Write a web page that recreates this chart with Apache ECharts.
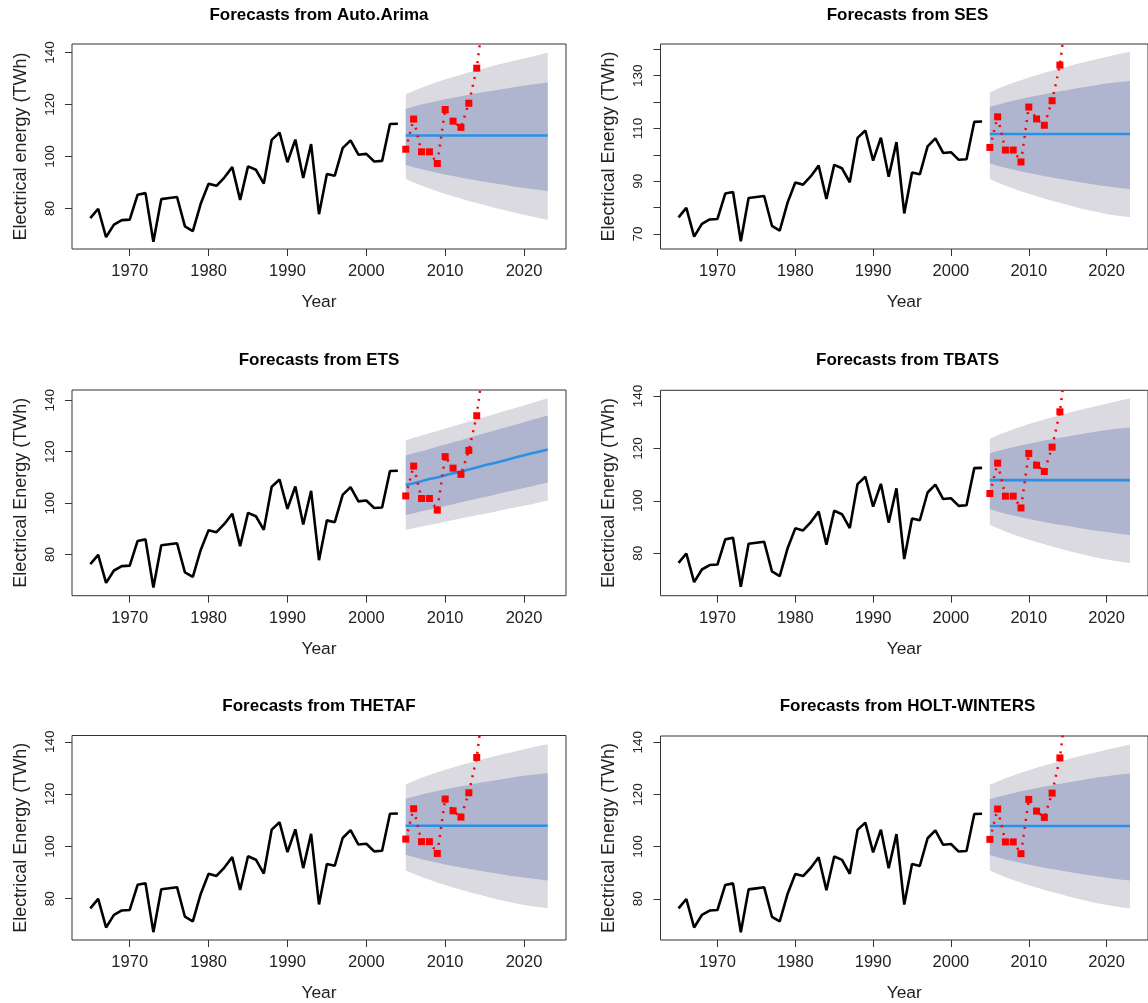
<!DOCTYPE html>
<html>
<head>
<meta charset="utf-8">
<script src="https://cdn.jsdelivr.net/npm/echarts@6.0.0/dist/echarts.min.js"></script>
<style>
html,body{margin:0;padding:0;background:#ffffff;}
#chart{width:1148px;height:1003px;}
</style>
</head>
<body>
<div id="chart"></div>
<script>
// ---------- DATA ----------
const histYears = [1965,1966,1967,1968,1969,1970,1971,1972,1973,1974,1975,1976,1977,1978,1979,1980,1981,1982,1983,1984,
                   1985,1986,1987,1988,1989,1990,1991,1992,1993,1994,1995,1996,1997,1998,1999,2000,2001,2002,2003,2004];
const histValues = [76.3,79.9,69.0,73.8,75.5,75.7,85.3,85.9,67.2,83.6,84.0,84.4,73.1,71.3,81.8,89.5,88.7,91.9,95.9,83.3,
                    96.2,94.9,89.6,106.4,109.2,97.8,106.5,91.7,104.8,77.8,93.3,92.6,103.2,106.2,100.7,101.0,98.1,98.3,112.5,112.6];

const actualYears  = [2005,2006,2007,2008,2009,2010,2011,2012,2013,2014,2015];
const actualValues = [102.8,114.4,101.8,101.8,97.3,118.1,113.6,111.2,120.5,134.0,158.0];

const fcYears = [2005,2006,2007,2008,2009,2010,2011,2012,2013,2014,2015,2016,2017,2018,2019,2020,2021,2022,2023];

// Auto.Arima forecast
const arimaMean = [108.1,108.1,108.1,108.1,108.1,108.1,108.1,108.1,108.1,108.1,108.1,108.1,108.1,108.1,108.1,108.1,108.1,108.1,108.1];
const arimaHi95 = [124.0,125.3,126.5,127.6,128.7,129.7,130.6,131.5,132.4,133.2,134.0,134.8,135.6,136.3,137.0,137.7,138.4,139.2,140.0];
const arimaLo95 = [91.4,90.0,88.8,87.7,86.6,85.6,84.7,83.8,82.9,82.1,81.3,80.5,79.7,79.0,78.3,77.6,76.9,76.2,75.6];
const arimaHi80 = [118.3,119.2,120.0,120.7,121.4,122.0,122.6,123.2,123.8,124.3,124.8,125.3,125.8,126.3,126.8,127.2,127.7,128.1,128.6];
const arimaLo80 = [96.8,95.9,95.1,94.4,93.7,93.1,92.5,91.9,91.3,90.8,90.3,89.8,89.3,88.8,88.3,87.9,87.5,87.1,86.7];

// SES / TBATS / THETAF / HOLT-WINTERS forecast (flat)
const sesMean = [107.9,107.9,107.9,107.9,107.9,107.9,107.9,107.9,107.9,107.9,107.9,107.9,107.9,107.9,107.9,107.9,107.9,107.9,107.9];
const sesHi95 = [123.7,125.0,126.2,127.3,128.3,129.3,130.2,131.1,131.9,132.7,133.5,134.3,135.0,135.7,136.4,137.1,137.8,138.5,139.1];
const sesLo95 = [90.8,89.5,88.3,87.2,86.2,85.2,84.3,83.4,82.6,81.8,81.0,80.2,79.5,78.8,78.2,77.6,77.1,76.7,76.3];
const sesHi80 = [118.2,119.0,119.8,120.5,121.2,121.8,122.4,123.0,123.5,124.1,124.6,125.1,125.6,126.1,126.6,127.0,127.4,127.7,128.0];
const sesLo80 = [96.8,95.9,95.1,94.4,93.7,93.1,92.5,91.9,91.4,90.9,90.4,89.9,89.4,88.9,88.5,88.1,87.7,87.3,87.0];

// ETS forecast (trending)
const etsMean = [107.0,107.7,108.5,109.4,110.0,110.8,111.6,112.3,113.1,113.9,114.7,115.4,116.2,117.0,117.8,118.6,119.4,120.1,120.9];
const etsHi95 = [124.5,125.4,126.3,127.2,128.1,129.0,129.9,130.8,131.7,132.6,133.5,134.4,135.3,136.2,137.1,138.0,138.9,139.9,140.8];
const etsLo95 = [89.6,90.2,90.9,91.5,92.1,92.8,93.4,94.0,94.7,95.3,95.9,96.5,97.1,97.8,98.4,99.0,99.6,100.3,101.0];
const etsHi80 = [118.5,119.4,120.2,121.1,122.0,122.8,123.7,124.5,125.4,126.3,127.2,128.0,128.9,129.7,130.6,131.5,132.4,133.2,134.1];
const etsLo80 = [95.4,96.1,96.8,97.5,98.2,98.9,99.6,100.3,101.0,101.7,102.4,103.1,103.8,104.5,105.2,105.9,106.6,107.3,108.0];

const xTickYears   = [1970,1980,1990,2000,2010,2020];
const yTicksMain   = [80,100,120,140];
const yTicksSES    = [70,80,90,100,110,120,130,140];
const yLabelsSES   = [70,90,110,130];

const panelTitles  = ['Forecasts from Auto.Arima','Forecasts from SES','Forecasts from ETS',
                      'Forecasts from TBATS','Forecasts from THETAF','Forecasts from HOLT-WINTERS'];
const yAxisTitles  = ['Electrical energy (TWh)','Electrical Energy (TWh)','Electrical Energy (TWh)',
                      'Electrical Energy (TWh)','Electrical Energy (TWh)','Electrical Energy (TWh)'];

// ---------- LAYOUT / STYLE ----------
const FONT = '"Liberation Sans", Arial, Helvetica, sans-serif';
const C95 = '#DADAE0', C80 = '#AFB4CF', CBLUE = '#2B90E6';

const forecasts = [
  {mean: arimaMean, hi95: arimaHi95, lo95: arimaLo95, hi80: arimaHi80, lo80: arimaLo80},
  {mean: sesMean,   hi95: sesHi95,   lo95: sesLo95,   hi80: sesHi80,   lo80: sesLo80},
  {mean: etsMean,   hi95: etsHi95,   lo95: etsLo95,   hi80: etsHi80,   lo80: etsLo80},
  {mean: sesMean,   hi95: sesHi95,   lo95: sesLo95,   hi80: sesHi80,   lo80: sesLo80},
  {mean: sesMean,   hi95: sesHi95,   lo95: sesLo95,   hi80: sesHi80,   lo80: sesLo80},
  {mean: sesMean,   hi95: sesHi95,   lo95: sesLo95,   hi80: sesHi80,   lo80: sesLo80}
];

const panels = [
  {left: 72,    top: 44,    width: 494, height: 205,   ymin: 64.4, ymax: 143.3, yt: yTicksMain, yl: yTicksMain, titleY: 15},
  {left: 660.5, top: 44,    width: 493, height: 205,   ymin: 64.3, ymax: 142.0, yt: yTicksSES,  yl: yLabelsSES, titleY: 15},
  {left: 72,    top: 390,   width: 494, height: 205.7, ymin: 64.0, ymax: 144.0, yt: yTicksMain, yl: yTicksMain, titleY: 360.5},
  {left: 660.5, top: 390.3, width: 493, height: 205.4, ymin: 63.8, ymax: 142.2, yt: yTicksMain, yl: yTicksMain, titleY: 360.5},
  {left: 72,    top: 735.5, width: 494, height: 205.5, ymin: 64.2, ymax: 142.4, yt: yTicksMain, yl: yTicksMain, titleY: 706},
  {left: 660.5, top: 736,   width: 493, height: 205,   ymin: 64.2, ymax: 142.4, yt: yTicksMain, yl: yTicksMain, titleY: 706}
];

const zip = (xs, ys) => xs.map((x, i) => [x, ys[i]]);
const zip3 = (xs, a, b) => xs.map((x, i) => [x, a[i], b[i]]);

// draws one filled band polygon (lower edge forward, upper edge backward) through the axis scales
function bandRenderer(color) {
  return function (params, api) {
    if (params.dataIndexInside !== 0) return null;
    const n = params.dataInsideLength;
    const pts = [];
    for (let j = 0; j < n; j++) pts.push(api.coord([api.value(0, j), api.value(1, j)]));
    for (let j = n - 1; j >= 0; j--) pts.push(api.coord([api.value(0, j), api.value(2, j)]));
    return {type: 'polygon', shape: {points: pts}, style: {fill: color, stroke: null}};
  };
}

const grid = [], xAxis = [], yAxis = [], series = [], graphic = [];

panels.forEach((p, i) => {
  const fc = forecasts[i];
  grid.push({left: p.left, top: p.top, width: p.width, height: p.height,
             show: true, borderColor: '#333', borderWidth: 1, backgroundColor: 'transparent'});
  xAxis.push({
    type: 'value', gridIndex: i, min: 1962.68, max: 2025.32,
    axisLine: {show: false}, splitLine: {show: false},
    axisTick: {show: true, customValues: xTickYears, length: 7, inside: false, lineStyle: {color: '#333', width: 1}},
    axisLabel: {show: true, customValues: xTickYears, formatter: v => String(v),
                fontSize: 16.5, color: '#222', margin: 14, fontFamily: FONT},
    name: 'Year', nameLocation: 'middle', nameGap: 45,
    nameTextStyle: {fontSize: 17.4, color: '#222', fontFamily: FONT}
  });
  yAxis.push({
    type: 'value', gridIndex: i, min: p.ymin, max: p.ymax,
    axisLine: {show: false}, splitLine: {show: false},
    axisTick: {show: true, customValues: p.yt, length: 7, inside: false, lineStyle: {color: '#333', width: 1}},
    axisLabel: {show: true, customValues: p.yl, formatter: v => String(v), rotate: 90,
                fontSize: 13.5, color: '#222', margin: 15, fontFamily: FONT},
    name: yAxisTitles[i], nameLocation: 'middle', nameRotate: 90, nameGap: 42,
    nameTextStyle: {fontSize: 18, color: '#222', fontFamily: FONT}
  });

  const base = {xAxisIndex: i, yAxisIndex: i, silent: true, animation: false};
  series.push(Object.assign({}, base, {type: 'custom', data: zip3(fcYears, fc.lo95, fc.hi95),
                encode: {x: 0, y: [1, 2]}, renderItem: bandRenderer(C95), clip: true, z: 1}));
  series.push(Object.assign({}, base, {type: 'custom', data: zip3(fcYears, fc.lo80, fc.hi80),
                encode: {x: 0, y: [1, 2]}, renderItem: bandRenderer(C80), clip: true, z: 2}));
  series.push(Object.assign({}, base, {type: 'line', symbol: 'none', data: zip(fcYears, fc.mean),
                lineStyle: {color: CBLUE, width: 2.6}, z: 3}));
  series.push(Object.assign({}, base, {type: 'line', symbol: 'none', data: zip(histYears, histValues),
                lineStyle: {color: '#000', width: 2.6}, z: 4}));
  series.push(Object.assign({}, base, {type: 'line', data: zip(actualYears, actualValues), clip: true,
                symbol: 'rect', symbolSize: 7, showSymbol: true,
                itemStyle: {color: '#FF0000'},
                lineStyle: {color: '#FF0000', width: 2.5, type: [2, 6]}, z: 5}));

  graphic.push({type: 'text', x: p.left + 494 / 2, y: p.titleY,
    style: {text: panelTitles[i], fill: '#000', font: 'bold 17px ' + FONT,
            textAlign: 'center', textVerticalAlign: 'middle', align: 'center', verticalAlign: 'middle'}});
});

const chart = echarts.init(document.getElementById('chart'), null, {renderer: 'canvas'});
chart.setOption({
  animation: false,
  backgroundColor: '#ffffff',
  textStyle: {fontFamily: FONT},
  grid, xAxis, yAxis, series, graphic
});
</script>
</body>
</html>
